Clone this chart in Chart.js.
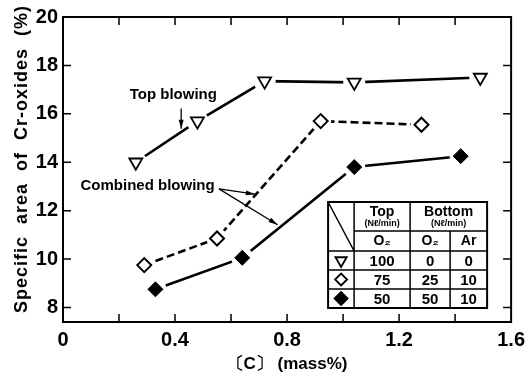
<!DOCTYPE html>
<html lang="en">
<head>
<meta charset="UTF-8" />
<title>Specific area of Cr-oxides</title>
<script src="https://cdn.jsdelivr.net/npm/chart.js@4"></script>
<style>
  html, body { margin: 0; padding: 0; background: #fff; }
</style>
</head>
<body>
<canvas id="chart" width="531" height="376"></canvas>
<script>
// values
const topC = [0.26, 0.48, 0.72, 1.04, 1.49];
const topArea = [14.0, 15.7, 17.35, 17.3, 17.5];
const combAC = [0.29, 0.55, 0.92, 1.28];
const combAArea = [9.75, 10.85, 15.7, 15.55];
const combBC = [0.33, 0.64, 1.04, 1.42];
const combBArea = [8.75, 10.05, 13.8, 14.25];

const xTicks = [0, 0.2, 0.4, 0.6, 0.8, 1.0, 1.2, 1.4, 1.6];
const xTickLabels = ["0", "", "0.4", "", "0.8", "", "1.2", "", "1.6"];
const yTicks = [8, 10, 12, 14, 16, 18, 20];

// flow-rate table (Nl/min)
const tableTopO2 = ["100", "75", "50"];
const tableBottomO2 = ["0", "25", "50"];
const tableBottomAr = ["0", "10", "10"];

const F = '"Liberation Sans Narrow", "Liberation Sans", Arial, sans-serif';
const FW = '"Liberation Sans", Arial, sans-serif';

const pts = (xs, ys) => xs.map((x, i) => ({ x, y: ys[i] }));

function arrow(ctx, x1, y1, x2, y2) {
  ctx.beginPath();
  ctx.moveTo(x1, y1);
  ctx.lineTo(x2, y2);
  ctx.stroke();
  const a = Math.atan2(y2 - y1, x2 - x1);
  ctx.beginPath();
  ctx.moveTo(x2, y2);
  ctx.lineTo(x2 - 9 * Math.cos(a) + 2.5 * Math.sin(a), y2 - 9 * Math.sin(a) - 2.5 * Math.cos(a));
  ctx.lineTo(x2 - 9 * Math.cos(a) - 2.5 * Math.sin(a), y2 - 9 * Math.sin(a) + 2.5 * Math.cos(a));
  ctx.closePath();
  ctx.fill();
}

const extras = {
  id: "extras",
  afterDatasetsDraw(chart) {
    const { ctx, chartArea: a, scales: { x, y } } = chart;
    // little white gap between lines and markers
    chart.data.datasets.forEach((ds, i) => {
      chart.getDatasetMeta(i).data.forEach((p) => {
        ctx.save();
        ctx.fillStyle = "#fff";
        ctx.beginPath();
        ctx.arc(p.x, p.y, p.options.radius + 3.5, 0, Math.PI * 2);
        ctx.fill();
        ctx.restore();
        p.draw(ctx, a);
      });
    });

    ctx.save();
    ctx.strokeStyle = "#000";
    ctx.fillStyle = "#000";
    // frame + inward ticks
    ctx.lineWidth = 2;
    ctx.strokeRect(a.left, a.top, a.right - a.left, a.bottom - a.top);
    ctx.lineWidth = 1.5;
    ctx.beginPath();
    xTicks.slice(1, -1).forEach((v) => {
      const px = x.getPixelForValue(v);
      ctx.moveTo(px, a.bottom); ctx.lineTo(px, a.bottom - 8);
      ctx.moveTo(px, a.top); ctx.lineTo(px, a.top + 8);
    });
    yTicks.slice(0, -1).forEach((v) => {
      const py = y.getPixelForValue(v);
      ctx.moveTo(a.left, py); ctx.lineTo(a.left + 8, py);
      ctx.moveTo(a.right, py); ctx.lineTo(a.right - 8, py);
    });
    ctx.stroke();

    // y title
    ctx.save();
    ctx.translate(22, 159);
    ctx.rotate(-Math.PI / 2);
    ctx.font = "bold 18px " + FW;
    ctx.letterSpacing = "1px";
    ctx.textAlign = "center";
    ctx.textBaseline = "middle";
    ctx.fillText("Specific  area  of  Cr-oxides  (%)", 0, 0);
    ctx.restore();

    // annotations
    const P = (xv, yv) => [x.getPixelForValue(xv), y.getPixelForValue(yv)];
    ctx.font = "bold 15px " + FW;
    ctx.textAlign = "center";
    ctx.textBaseline = "middle";
    let t = P(0.394, 16.8);
    ctx.fillText("Top blowing", t[0], t[1]);
    t = P(0.302, 13.02);
    ctx.fillText("Combined blowing", t[0], t[1]);
    ctx.lineWidth = 1.3;
    arrow(ctx, ...P(0.422, 16.22), ...P(0.422, 15.38));
    arrow(ctx, ...P(0.557, 12.9), ...P(0.685, 12.68));
    arrow(ctx, ...P(0.557, 12.9), ...P(0.766, 11.42));

    // table
    const x0 = a.right - 183, y0 = a.bottom - 120;
    const cx = [x0, x0 + 26, x0 + 82, x0 + 122, x0 + 159];
    const ry = [y0, y0 + 29, y0 + 49, y0 + 68, y0 + 87, y0 + 106];
    ctx.fillStyle = "#fff";
    ctx.fillRect(x0, y0, 159, 106);
    ctx.fillStyle = "#000";
    ctx.lineWidth = 1.5;
    ctx.beginPath();
    ctx.moveTo(cx[1], ry[0]); ctx.lineTo(cx[1], ry[5]);
    ctx.moveTo(cx[2], ry[0]); ctx.lineTo(cx[2], ry[5]);
    ctx.moveTo(cx[3], ry[1]); ctx.lineTo(cx[3], ry[5]);
    ctx.moveTo(cx[1], ry[1]); ctx.lineTo(cx[4], ry[1]);
    [2, 3, 4].forEach((k) => { ctx.moveTo(cx[0], ry[k]); ctx.lineTo(cx[4], ry[k]); });
    ctx.moveTo(cx[0], ry[0]); ctx.lineTo(cx[1], ry[2]);
    ctx.stroke();
    ctx.lineWidth = 2;
    ctx.strokeRect(x0, y0, 159, 106);

    const mid = (i, j) => (cx[i] + cx[j]) / 2;
    ctx.font = "bold 14px " + FW;
    ctx.fillText("Top", mid(1, 2), ry[0] + 10);
    ctx.fillText("Bottom", mid(2, 4), ry[0] + 10);
    ctx.font = "bold 9px " + FW;
    ctx.fillText("(N\u2113/min)", mid(1, 2), ry[0] + 22);
    ctx.fillText("(N\u2113/min)", mid(2, 4), ry[0] + 22);
    ctx.font = "bold 14px " + F;
    ctx.fillText("O\u2082", mid(1, 2), ry[1] + 10);
    ctx.fillText("O\u2082", mid(2, 3), ry[1] + 10);
    ctx.fillText("Ar", mid(3, 4), ry[1] + 10);
    ctx.font = "bold 15px " + F;
    for (let r = 0; r < 3; r++) {
      const yy = (ry[r + 2] + ry[r + 3]) / 2 + 1;
      ctx.fillText(tableTopO2[r], mid(1, 2), yy);
      ctx.fillText(tableBottomO2[r], mid(2, 3), yy);
      ctx.fillText(tableBottomAr[r], mid(3, 4), yy);
    }
    chart.data.datasets.forEach((d, r) => {
      const yy = (ry[r + 2] + ry[r + 3]) / 2;
      ctx.fillStyle = d.pointBackgroundColor;
      ctx.strokeStyle = "#000";
      ctx.lineWidth = 1.8;
      Chart.helpers.drawPoint(ctx, {
        pointStyle: d.pointStyle, rotation: d.pointRotation || 0,
        radius: d.pointRadius - 1, borderWidth: 1.8
      }, mid(0, 1), yy);
    });
    ctx.restore();
  }
};

new Chart(document.getElementById("chart"), {
  type: "scatter",
  data: {
    datasets: [
      {
        label: "Top blowing",
        data: pts(topC, topArea),
        showLine: true,
        borderColor: "#000",
        borderWidth: 2.6,
        pointStyle: "triangle",
        pointRotation: 180,
        pointRadius: 7.5,
        pointBorderWidth: 1.8,
        pointBorderColor: "#000",
        pointBackgroundColor: "#fff"
      },
      {
        label: "Combined (O2 25, Ar 10)",
        data: pts(combAC, combAArea),
        showLine: true,
        borderColor: "#000",
        borderWidth: 2.6,
        borderDash: [8, 4],
        pointStyle: "rectRot",
        pointRadius: 7,
        pointBorderWidth: 2,
        pointBorderColor: "#000",
        pointBackgroundColor: "#fff"
      },
      {
        label: "Combined (O2 50, Ar 10)",
        data: pts(combBC, combBArea),
        showLine: true,
        borderColor: "#000",
        borderWidth: 2.6,
        pointStyle: "rectRot",
        pointRadius: 7.5,
        pointBorderWidth: 1,
        pointBorderColor: "#000",
        pointBackgroundColor: "#000"
      }
    ]
  },
  options: {
    responsive: false,
    animation: false,
    devicePixelRatio: 1,
    layout: { padding: { top: 15, right: 17, left: 0, bottom: 0 } },
    plugins: { legend: { display: false }, tooltip: { enabled: false } },
    scales: {
      x: {
        type: "linear",
        min: 0,
        max: 1.6,
        bounds: "data",
        afterBuildTicks: (s) => { s.ticks = xTicks.map((v) => ({ value: v })); },
        afterFit: (s) => { s.height = 54; },
        grid: { display: false, drawTicks: false },
        border: { display: false },
        ticks: {
          autoSkip: false,
          maxRotation: 0,
          padding: 6,
          color: "#000",
          font: { family: F, size: 20, weight: "bold" },
          callback: (v, i) => xTickLabels[i]
        },
        title: {
          display: true,
          text: "\u3014C\u3015 (mass%)",
          color: "#000",
          font: { family: FW, size: 17, weight: "bold" },
          padding: { top: 0, bottom: 1 }
        }
      },
      y: {
        min: 7.4,
        max: 20,
        bounds: "data",
        afterBuildTicks: (s) => { s.ticks = yTicks.map((v) => ({ value: v })); },
        afterFit: (s) => { s.width = 63; },
        grid: { display: false, drawTicks: false },
        border: { display: false },
        ticks: {
          padding: 5,
          color: "#000",
          font: { family: F, size: 20, weight: "bold" },
          callback: (v) => String(v)
        }
      }
    }
  },
  plugins: [extras]
});
</script>
</body>
</html>
